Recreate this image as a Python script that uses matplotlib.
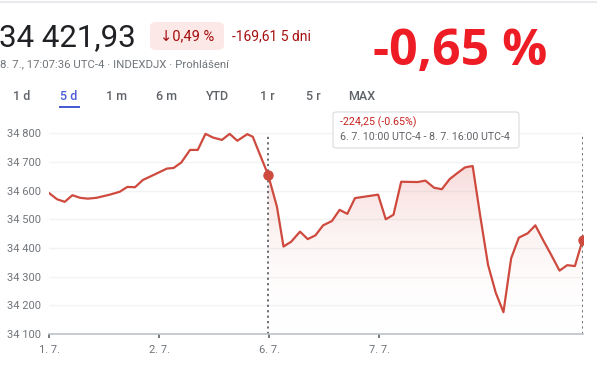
import numpy as np
import matplotlib
matplotlib.use("Agg")
import matplotlib.pyplot as plt
from matplotlib.patches import FancyBboxPatch, Rectangle

plt.rcParams["font.family"] = ["Roboto", "DejaVu Sans"]

# trading-session position (days since 1. 7. open) and index value
pos = [0.00, 0.07, 0.14, 0.21, 0.28, 0.35, 0.43, 0.55, 0.64, 0.71, 0.78, 0.85, 0.95,
       1.07, 1.13, 1.20, 1.28, 1.35, 1.42, 1.49, 1.57, 1.64, 1.71, 1.80, 1.85,
       1.99, 2.07, 2.13, 2.20, 2.28, 2.35, 2.42, 2.49, 2.57, 2.64, 2.71, 2.78,
       2.99, 3.06, 3.13, 3.20, 3.35, 3.42, 3.50, 3.57, 3.64, 3.71, 3.78, 3.85,
       3.92, 3.99, 4.06, 4.13, 4.20, 4.27, 4.35, 4.42, 4.49, 4.56, 4.64, 4.71,
       4.78, 4.85]
values = [34591, 34570, 34561, 34584, 34575, 34572, 34575, 34586, 34596, 34613, 34612,
          34637, 34655, 34677, 34679, 34698, 34742, 34742, 34798, 34785, 34777, 34798,
          34774, 34797, 34788,
          34655, 34544, 34405, 34422, 34457, 34431, 34444, 34479, 34494, 34533, 34519,
          34574, 34586, 34500, 34516, 34631, 34630, 34635, 34610, 34605, 34640, 34661,
          34681, 34686, 34509, 34341, 34244, 34176, 34364, 34436, 34451, 34479, 34428,
          34379, 34321, 34340, 34337, 34428]

tick_pos = [0, 1, 2, 3]
tick_labels = ["1. 7.", "2. 7.", "6. 7.", "7. 7."]
y_ticks = [34100, 34200, 34300, 34400, 34500, 34600, 34700, 34800]
tabs = ["1 d", "5 d", "1 m", "6 m", "YTD", "1 r", "5 r", "MAX"]
tab_x = [22, 69, 117, 167, 218, 267, 313, 362]

sel_start = 25  # index of 6. 7. 10:00 marker
red = "#cf4a3e"

fig = plt.figure(figsize=(6.05, 3.73), dpi=100)
ax = fig.add_axes([0.0815, 0.1046, 0.8815, 0.5534])
ax.set_xlim(0, 4.85)
ax.set_ylim(34100, 34820)

for v in y_ticks[1:]:
    ax.axhline(v, color="#f1f3f4", lw=1, zorder=0)
ax.plot(pos, values, color=red, lw=1.6, zorder=3, solid_joinstyle="round")

# gradient fill of the selected range
xs = np.array(pos[sel_start:])
ys = np.array(values[sel_start:])
poly = ax.fill_between(xs, ys, 34100, color="none", lw=0)
grad = np.linspace(0, 1, 256).reshape(-1, 1)
cmap = matplotlib.colors.LinearSegmentedColormap.from_list(
    "g", [(1, 1, 1, 0), (0.85, 0.3, 0.27, 0.2)])
img = ax.imshow(grad, cmap=cmap, aspect="auto", origin="lower",
                extent=[xs[0], xs[-1], 34100, 34690], zorder=1)
img.set_clip_path(poly.get_paths()[0], transform=ax.transData)

for i in [sel_start, len(pos) - 1]:
    ax.plot([pos[i], pos[i]], [34100, 34790], color="#5f6368", lw=1.3,
            ls=(0, (1.2, 1.8)), zorder=2)
    ax.plot(pos[i], values[i], "o", color=red, ms=6.5, zorder=4)

ax.set_yticks(y_ticks)
ax.set_yticklabels([f"{v // 1000} {v % 1000:03d}" for v in y_ticks])
ax.set_xticks(tick_pos)
ax.set_xticklabels(tick_labels)
ax.tick_params(axis="y", length=0, pad=6, labelsize=8, labelcolor="#70757a")
ax.tick_params(axis="x", length=3, width=1.2, color="#5f6368", pad=5,
               labelsize=8, labelcolor="#70757a")
for s in ["top", "right", "left"]:
    ax.spines[s].set_visible(False)
ax.spines["bottom"].set_color("#bdc1c6")
ax.spines["bottom"].set_linewidth(1.2)

# header
fig.add_artist(plt.Line2D([0, 0.985], [0.995, 0.995], color="#e8eaed", lw=1.5))
fig.text(-0.002, 0.9, "34 421,93", fontsize=22.5, color="#202124", va="center")
fig.add_artist(FancyBboxPatch((150 / 605, 1 - 50 / 373), 74 / 605, 28 / 373,
                              boxstyle="round,pad=0,rounding_size=0.012",
                              fc="#fce8e6", ec="none"))
fig.text(187 / 605, 1 - 36 / 373, "↓0,49 %", fontsize=10.5, color="#a50e0e",
         ha="center", va="center")
fig.text(232 / 605, 1 - 36 / 373, "-169,61 5 dni", fontsize=10, color="#a50e0e",
         va="center")
fig.text(0, 1 - 64 / 373, "8. 7., 17:07:36 UTC-4 · INDEXDJX · Prohlášení",
         fontsize=8.2, color="#70757a", va="center")
for t, x in zip(tabs, tab_x):
    fig.text(x / 605, 1 - 97 / 373, t, fontsize=9,
             color="#4a5bd6" if t == "5 d" else "#5f6368",
             ha="center", va="center", fontweight="medium")
fig.add_artist(Rectangle((59 / 605, 1 - 107.5 / 373), 21 / 605, 2 / 373,
                         fc="#4a5bd6", ec="none"))
fig.text(460 / 605, 1 - 52 / 373, "-0,65 %", fontsize=36, color="#ee1c25",
         ha="center", va="center", fontweight="bold", family=["Open Sans"])

# tooltip
fig.add_artist(FancyBboxPatch((333 / 605, 1 - 148 / 373), 186 / 605, 36 / 373,
                              boxstyle="round,pad=0,rounding_size=0.006",
                              fc="white", ec="#dadce0", lw=0.8, zorder=5))
fig.text(340 / 605, 1 - 122.5 / 373, "-224,25 (-0.65%)", fontsize=7.7,
         color="#c5221f", va="center", zorder=6)
fig.text(340 / 605, 1 - 137 / 373, "6. 7. 10:00 UTC-4 - 8. 7. 16:00 UTC-4",
         fontsize=7.7, color="#5f6368", va="center", zorder=6)

fig.savefig("out.png", dpi=100)
